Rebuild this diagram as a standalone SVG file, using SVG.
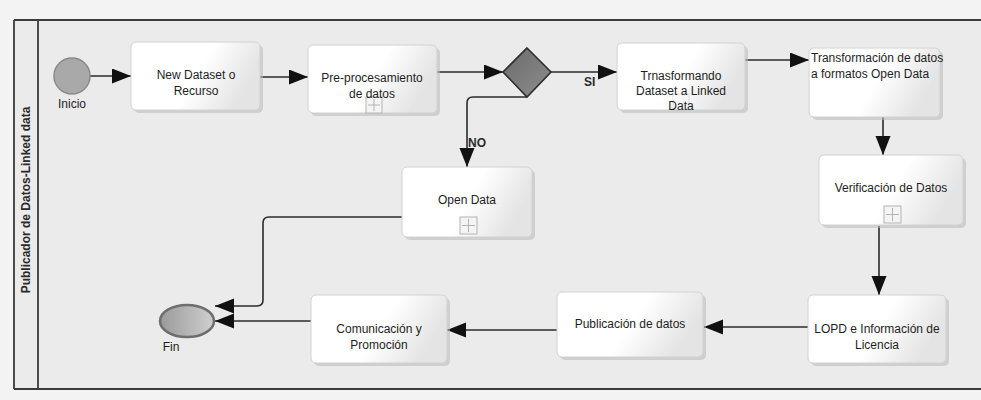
<svg xmlns="http://www.w3.org/2000/svg" width="981" height="400" viewBox="0 0 981 400">
<defs>
<style>
.box{fill:url(#boxg);stroke:#d2d2d2;stroke-width:1}
.shadow{fill:#b8b8b8;opacity:0.55}
.t{font-family:"Liberation Sans",Arial,sans-serif;font-size:12px;fill:#1e1e1e;text-anchor:middle}
.tl{font-family:"Liberation Sans",Arial,sans-serif;font-size:12px;fill:#1e1e1e}
.lbl{font-family:"Liberation Sans",Arial,sans-serif;font-size:12px;fill:#2a2a2a;font-weight:bold}
.conn{fill:none;stroke:#2b2b2b;stroke-width:1.6}
.plus{fill:#f4f4f4;stroke:#b4b4b4;stroke-width:1}
.plusl{stroke:#b4b4b4;stroke-width:1}
</style>
<linearGradient id="boxg" x1="0" y1="0" x2="1" y2="0.3">
<stop offset="0" stop-color="#ffffff"/>
<stop offset="0.6" stop-color="#ffffff"/>
<stop offset="1" stop-color="#e4e4e4"/>
</linearGradient>
<linearGradient id="dg" x1="0" y1="0" x2="1" y2="1">
<stop offset="0" stop-color="#6a6a6a"/>
<stop offset="1" stop-color="#8e8e8e"/>
</linearGradient>
<linearGradient id="fg" x1="0" y1="0" x2="1" y2="0">
<stop offset="0" stop-color="#9a9a9a"/>
<stop offset="1" stop-color="#cfcfcf"/>
</linearGradient>
<marker id="ah" markerUnits="userSpaceOnUse" markerWidth="20" markerHeight="16" refX="19" refY="7.5" orient="auto">
<path d="M0,0 L19,7.5 L0,15 z" fill="#111"/>
</marker>
</defs>

<rect x="0" y="0" width="981" height="400" fill="#f3f3f3"/>
<rect x="14" y="20" width="970" height="369" fill="#ebebeb"/>
<line x1="14" y1="20" x2="981" y2="20" stroke="#3a3a3a" stroke-width="1.8"/>
<line x1="14" y1="389" x2="981" y2="389" stroke="#3a3a3a" stroke-width="1.8"/>
<line x1="14" y1="20" x2="14" y2="389" stroke="#3a3a3a" stroke-width="1.8"/>
<line x1="38" y1="20" x2="38" y2="389" stroke="#3a3a3a" stroke-width="1.8"/>
<text class="lbl" font-size="11" transform="translate(30,200) rotate(-90)" text-anchor="middle">Publicador de Datos-Linked data</text>

<g id="connectors">
<line class="conn" x1="90" y1="76" x2="131" y2="76" marker-end="url(#ah)"/>
<line class="conn" x1="260" y1="77" x2="308" y2="77" marker-end="url(#ah)"/>
<line class="conn" x1="437" y1="72" x2="503" y2="72" marker-end="url(#ah)"/>
<line class="conn" x1="551" y1="72" x2="617" y2="72" marker-end="url(#ah)"/>
<path class="conn" d="M527,97 H473 Q467,97 467,103 V167" marker-end="url(#ah)"/>
<line class="conn" x1="745" y1="60" x2="809" y2="60" marker-end="url(#ah)"/>
<line class="conn" x1="883" y1="117" x2="883" y2="155" marker-end="url(#ah)"/>
<line class="conn" x1="879" y1="226" x2="879" y2="295" marker-end="url(#ah)"/>
<line class="conn" x1="808" y1="327" x2="704" y2="327" marker-end="url(#ah)"/>
<line class="conn" x1="557" y1="330" x2="447" y2="330" marker-end="url(#ah)"/>
<line class="conn" x1="311" y1="321" x2="215" y2="321" marker-end="url(#ah)"/>
<path class="conn" d="M402,217 H269 Q263,217 263,223 V300 Q263,306 257,306 H215" marker-end="url(#ah)"/>
<text class="lbl" x="584" y="86">SI</text>
<text class="lbl" x="468" y="147">NO</text>
</g>

<g id="inicio">
<circle cx="72" cy="76" r="18" fill="#a9a9a9" stroke="#8a8a8a" stroke-width="1.5"/>
<text class="t" x="72" y="108">Inicio</text>
</g>

<g id="new-dataset">
<rect class="shadow" x="134" y="45" width="129" height="68" rx="5"/>
<rect class="box" x="131" y="42" width="129" height="68" rx="5"/>
<text class="t" x="196" y="79">New Dataset o</text>
<text class="t" x="196" y="95">Recurso</text>
</g>

<g id="preprocesamiento">
<rect class="shadow" x="311" y="48" width="129" height="68" rx="5"/>
<rect class="box" x="308" y="45" width="129" height="68" rx="5"/>
<rect class="plus" x="366" y="97" width="16" height="16"/>
<line class="plusl" x1="374" y1="99" x2="374" y2="111"/>
<line class="plusl" x1="368" y1="105" x2="380" y2="105"/>
<text class="t" x="372" y="82">Pre-procesamiento</text>
<text class="t" x="372" y="98">de datos</text>
</g>

<g id="gateway">
<path d="M527,48 L551,72 L527,97 L503,72 z" fill="url(#dg)" stroke="#2e2e2e" stroke-width="1.6"/>
</g>

<g id="trnasformando">
<rect class="shadow" x="620" y="46" width="128" height="67" rx="5"/>
<rect class="box" x="617" y="43" width="128" height="67" rx="5"/>
<rect class="plus" x="673" y="94" width="16" height="16" opacity="0.35"/>
<text class="t" x="681" y="80">Trnasformando</text>
<text class="t" x="681" y="95">Dataset a Linked</text>
<text class="t" x="681" y="110">Data</text>
</g>

<g id="transformacion">
<rect class="shadow" x="812" y="51" width="131" height="69" rx="5"/>
<rect class="box" x="809" y="48" width="131" height="69" rx="5"/>
<text class="tl" x="811" y="62">Transformación de datos</text>
<text class="tl" x="811" y="78">a formatos Open Data</text>
</g>

<g id="verificacion">
<rect class="shadow" x="822" y="158" width="144" height="70" rx="5"/>
<rect class="box" x="819" y="155" width="144" height="70" rx="5"/>
<rect class="plus" x="884" y="206" width="17" height="17"/>
<line class="plusl" x1="892.5" y1="208" x2="892.5" y2="221"/>
<line class="plusl" x1="886" y1="214.5" x2="899" y2="214.5"/>
<text class="t" x="891" y="192">Verificación de Datos</text>
</g>

<g id="lopd">
<rect class="shadow" x="811" y="298" width="138" height="68" rx="5"/>
<rect class="box" x="808" y="295" width="138" height="68" rx="5"/>
<text class="t" x="877" y="333">LOPD e Información de</text>
<text class="t" x="877" y="349">Licencia</text>
</g>

<g id="publicacion">
<rect class="shadow" x="560" y="295" width="146" height="65" rx="5"/>
<rect class="box" x="557" y="292" width="146" height="65" rx="5"/>
<text class="t" x="630" y="328">Publicación de datos</text>
</g>

<g id="comunicacion">
<rect class="shadow" x="314" y="298" width="136" height="68" rx="5"/>
<rect class="box" x="311" y="295" width="136" height="68" rx="5"/>
<text class="t" x="379" y="333">Comunicación y</text>
<text class="t" x="379" y="349">Promoción</text>
</g>

<g id="open-data">
<rect class="shadow" x="405" y="170" width="130" height="70" rx="5"/>
<rect class="box" x="402" y="167" width="130" height="70" rx="5"/>
<rect class="plus" x="460" y="217" width="17" height="17"/>
<line class="plusl" x1="468.5" y1="219" x2="468.5" y2="232"/>
<line class="plusl" x1="462" y1="225.5" x2="475" y2="225.5"/>
<text class="t" x="467" y="204">Open Data</text>
</g>

<g id="fin">
<ellipse cx="187" cy="321" rx="27" ry="16" fill="url(#fg)" stroke="#6e6e6e" stroke-width="2.5"/>
<text class="t" x="171" y="351">Fin</text>
</g>
</svg>
